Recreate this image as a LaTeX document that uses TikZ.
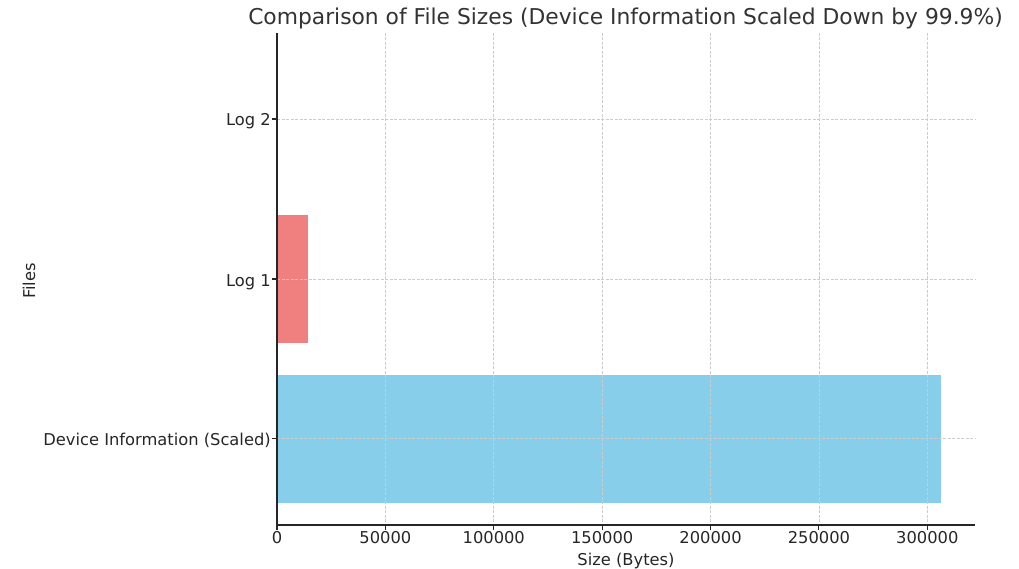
\documentclass[tikz,border=0pt]{standalone}
\usepackage{fontspec}
\setmainfont{DejaVu Sans}
\usepackage{xcolor}
\usetikzlibrary{positioning,calc}
\definecolor{txtgray}{HTML}{262626}
\definecolor{titlegray}{HTML}{333333}
\definecolor{barblue}{HTML}{87CEEB}
\definecolor{barred}{HTML}{F08080}
\definecolor{gridgray}{HTML}{CCCCCC}
\newcommand{\ticksize}{\fontsize{16.3}{18}\selectfont}
\tikzset{
  gridline/.style={gridgray, line width=0.8pt, dash pattern=on 3pt off 1.5pt},
  spine/.style={txtgray, line width=1.1pt},
  tickmark/.style={txtgray, line width=1.1pt},
  ticklabel/.style={txtgray, inner sep=0pt, font=\ticksize},
  axislabel/.style={txtgray, inner sep=0pt, font=\ticksize},
  charttitle/.style={titlegray, inner sep=0pt, font=\fontsize{21.8}{24}\selectfont},
}

\begin{document}
\begin{tikzpicture}[x=1pt, y=-1pt]
  \useasboundingbox (0,0) rectangle (1019,569);
  \node[charttitle, anchor=base] (title) at (625.5,24.5)
    {Comparison of File Sizes (Device Information Scaled Down by 99.9\%)};
  \begin{scope}[shift={(277,0)}, x=2.1677pt]
    % bars, sizes in kB
    \fill[barred]  (0,215)   rectangle (14.3,343);
    \fill[barblue] (0,374.5) rectangle (306.2,502.5);
    % grid
    \foreach \v in {50,100,...,300}
      \draw[gridline] (\v,33) -- (\v,525);
    \foreach \y in {119,279,438.5}
      \draw[gridline] (0,\y) -- (322,\y);
    % axes
    \draw[spine] (0,33) -- (0,525) -- (322,525);
    \foreach \v/\lab in {0/0,50/50000,100/100000,150/150000,200/200000,250/250000,300/300000}{
      \draw[tickmark] (\v,525) -- (\v,530);
      \node[ticklabel, anchor=base] (xt\v) at (\v,543.5) {\lab};
    }
    \foreach \y/\lab [count=\i] in {119/Log 2,279/Log 1,438.5/Device Information (Scaled)}{
      \draw[tickmark] (-2.3,\y) -- (0,\y);
      \node[ticklabel, anchor=base east] (yt\i) at (-2.8,\y+7) {\lab};
    }
  \end{scope}
  \node[axislabel, anchor=base] (xlabel) at (626,565) {Size (Bytes)};
  \node[axislabel, anchor=base, rotate=90] (ylabel) at (35,281) {Files};
\end{tikzpicture}
\end{document}
